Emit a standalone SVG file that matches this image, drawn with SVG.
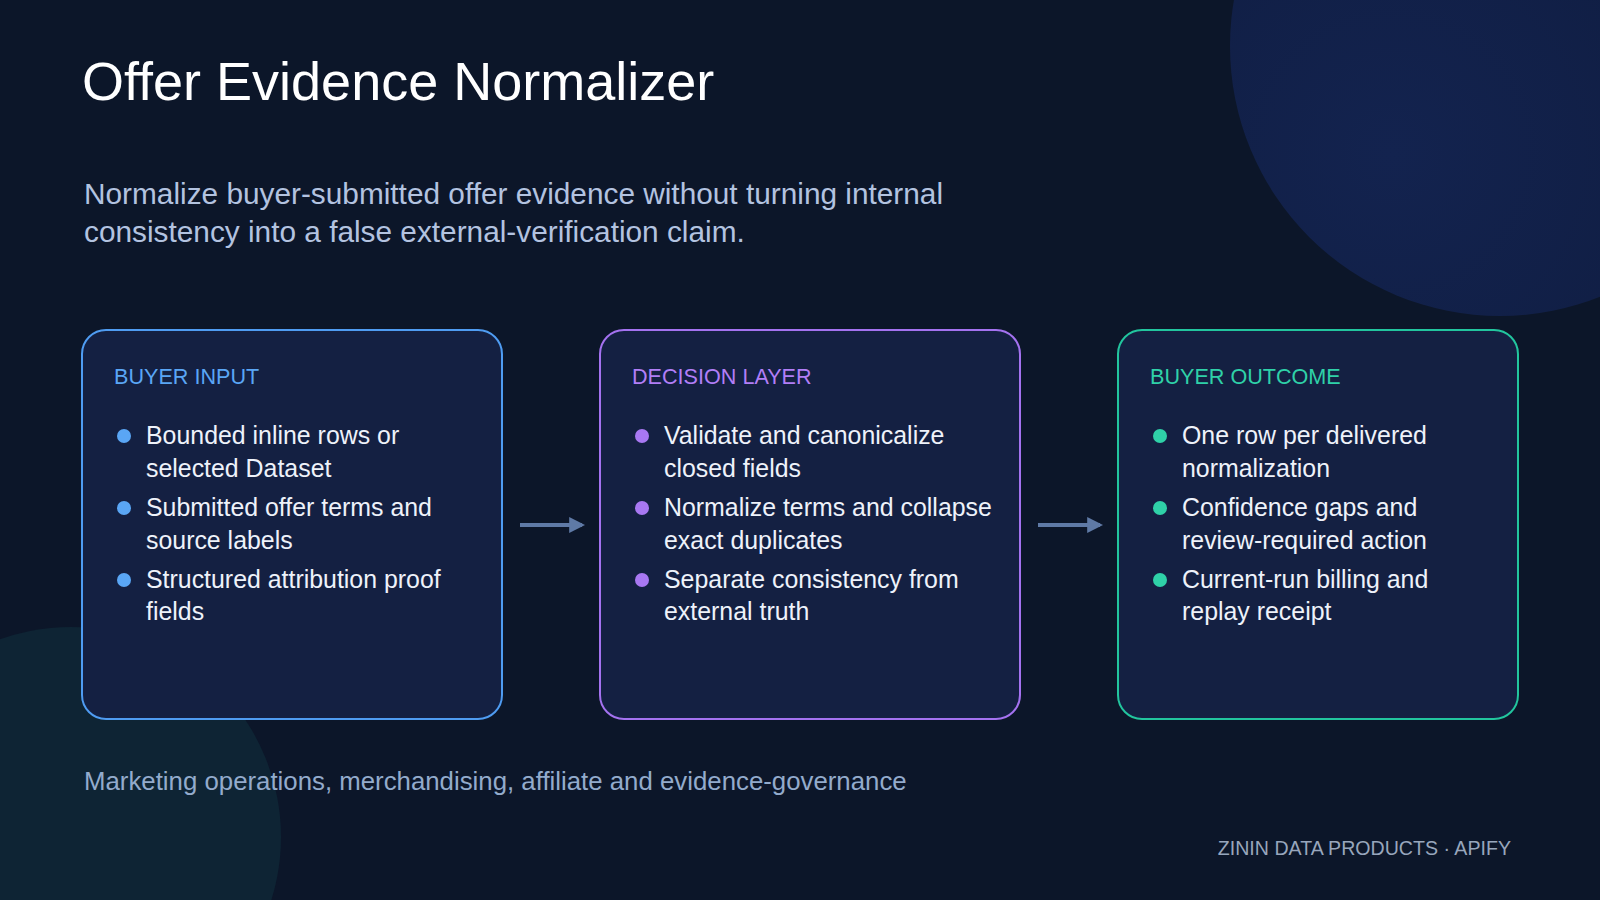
<svg xmlns="http://www.w3.org/2000/svg" width="1600" height="900" viewBox="0 0 1600 900">
<defs>
<style>
text{font-family:"Liberation Sans",Arial,sans-serif}
.box{fill:#142042;stroke-width:2}
.hd{font-size:21.6px}
.it{font-size:24.9px;fill:#eef2fa}
.arr{stroke:#5f7aa6;stroke-width:4;fill:none}
</style>
<radialGradient id="g1" cx="0.3" cy="0.7" r="0.8"><stop offset="0" stop-color="#13234f"/><stop offset="1" stop-color="#0f1c3f"/></radialGradient>
<marker id="ah" viewBox="0 0 10 10" refX="8" refY="5" markerWidth="4" markerHeight="4" orient="auto"><path d="M0,0 L10,5 L0,10 z" fill="#5f7aa6"/></marker>
</defs>
<rect width="1600" height="900" fill="#0c1629"/>
<circle cx="1500" cy="46" r="270" fill="url(#g1)"/>
<circle cx="71" cy="837" r="210" fill="#0e2434"/>
<text x="82" y="100" font-size="54" fill="#ffffff">Offer Evidence Normalizer</text>
<text x="84" y="204" font-size="29.8" fill="#b3c3e0">Normalize buyer-submitted offer evidence without turning internal</text>
<text x="84" y="242" font-size="29.8" fill="#b3c3e0">consistency into a false external-verification claim.</text>
<g id="connectors">
<line class="arr" x1="520" y1="525" x2="582" y2="525" marker-end="url(#ah)"/>
<line class="arr" x1="1038" y1="525" x2="1100" y2="525" marker-end="url(#ah)"/>
</g>
<g id="input">
<rect class="box" x="82" y="330" width="420" height="389" rx="24" stroke="#4f9cf2"/>
<text class="hd" x="114" y="384" fill="#5aa6f5">BUYER INPUT</text>
<g fill="#5aa6f5"><circle cx="124" cy="436" r="7"/><circle cx="124" cy="508" r="7"/><circle cx="124" cy="580" r="7"/></g>
<text class="it" x="146" y="444">Bounded inline rows or</text><text class="it" x="146" y="477">selected Dataset</text>
<text class="it" x="146" y="516">Submitted offer terms and</text><text class="it" x="146" y="549">source labels</text>
<text class="it" x="146" y="588">Structured attribution proof</text><text class="it" x="146" y="620">fields</text>
</g>
<g id="decision">
<rect class="box" x="600" y="330" width="420" height="389" rx="24" stroke="#a472f0"/>
<text class="hd" x="632" y="384" fill="#b17ef7">DECISION LAYER</text>
<g fill="#a878f2"><circle cx="642" cy="436" r="7"/><circle cx="642" cy="508" r="7"/><circle cx="642" cy="580" r="7"/></g>
<text class="it" x="664" y="444">Validate and canonicalize</text><text class="it" x="664" y="477">closed fields</text>
<text class="it" x="664" y="516">Normalize terms and collapse</text><text class="it" x="664" y="549">exact duplicates</text>
<text class="it" x="664" y="588">Separate consistency from</text><text class="it" x="664" y="620">external truth</text>
</g>
<g id="outcome">
<rect class="box" x="1118" y="330" width="400" height="389" rx="24" stroke="#22c59e"/>
<text class="hd" x="1150" y="384" fill="#2fd1a8">BUYER OUTCOME</text>
<g fill="#2fd1a8"><circle cx="1160" cy="436" r="7"/><circle cx="1160" cy="508" r="7"/><circle cx="1160" cy="580" r="7"/></g>
<text class="it" x="1182" y="444">One row per delivered</text><text class="it" x="1182" y="477">normalization</text>
<text class="it" x="1182" y="516">Confidence gaps and</text><text class="it" x="1182" y="549">review-required action</text>
<text class="it" x="1182" y="588">Current-run billing and</text><text class="it" x="1182" y="620">replay receipt</text>
</g>
<text x="84" y="790" font-size="25.8" fill="#93abcc">Marketing operations, merchandising, affiliate and evidence-governance</text>
<text x="1511" y="855" font-size="19.6" fill="#98a6bc" text-anchor="end">ZININ DATA PRODUCTS · APIFY</text>
</svg>
